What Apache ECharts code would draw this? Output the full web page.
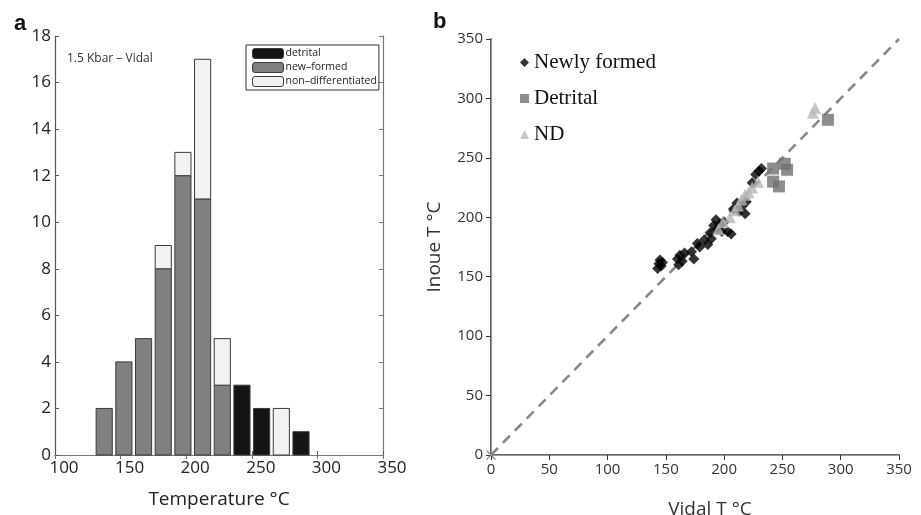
<!DOCTYPE html>
<html>
<head>
<meta charset="utf-8">
<script src="https://cdn.jsdelivr.net/npm/echarts@6/dist/echarts.min.js"></script>
<style>
  html, body { margin: 0; padding: 0; background: #fff; }
  #chart { width: 921px; height: 515px; }
</style>
</head>
<body>
<div id="chart"></div>
<script>
// panel a: histogram, 15 °C bins
const binCenters = [137.5, 152.5, 167.5, 182.5, 197.5, 212.5, 227.5, 242.5, 257.5, 272.5, 287.5]
const newFormed = [2, 4, 5, 8, 12, 11, 3, 0, 0, 0, 0]
const nonDiff = [0, 0, 0, 1, 1, 6, 2, 0, 0, 2, 0]
const detrital = [0, 0, 0, 0, 0, 0, 0, 3, 2, 0, 1]

// panel b: Vidal T vs Inoue T
const newlyFormedPts = [
  [143, 157], [144, 161], [145, 164], [146, 159], [147, 162],
  [160, 165], [161, 160], [162, 168], [164, 163], [166, 170], [172, 171], [174, 165],
  [177, 178], [179, 175], [183, 181], [186, 177], [188, 187], [189, 182],
  [191, 193], [193, 198], [194, 190], [196, 194], [198, 188], [200, 196], [203, 188], [206, 186],
  [208, 207], [211, 212], [213, 205], [216, 210], [218, 203], [219, 213],
  [224, 229], [227, 236], [230, 239], [232, 241]
]
const detritalPts = [[242, 241], [252, 245], [254, 240], [242, 230], [247, 226], [289, 282]]
const ndPts = [
  [195, 190], [199, 196], [205, 200], [209, 206], [212, 210], [215, 215],
  [218, 219], [221, 221], [224, 225], [229, 230], [276, 288], [278, 292]
]
const oneToOne = [[0, 0], [350, 350]]

const numFont = '"Open Sans", sans-serif'
const barEdge = '#3a3a3a'

// [x, base, height] rows; stacked bars built from the count arrays
const barRows = (counts, bases) =>
  binCenters
    .map((x, i) => [x, bases ? bases[i] : 0, counts[i]])
    .filter(r => r[2] > 0)

const makeRender = fill => (params, api) => {
  const x = api.value(0)
  const base = api.value(1)
  const h = api.value(2)
  const p0 = api.coord([x, base])
  const p1 = api.coord([x, base + h])
  const half = api.size([15, 0])[0] * 0.41
  return {
    type: 'rect',
    shape: { x: p0[0] - half, y: p1[1], width: half * 2, height: p0[1] - p1[1] },
    style: { fill: fill, stroke: barEdge, lineWidth: 1 }
  }
}

const chart = echarts.init(document.getElementById('chart'))

const option = {
  animation: false,
  backgroundColor: '#fff',
  title: [
    { text: 'a', left: 9, top: 8, textStyle: { fontSize: 22, fontWeight: 'bold', color: '#111', fontFamily: 'Arial, sans-serif' } },
    { text: 'b', left: 428, top: 6, textStyle: { fontSize: 22, fontWeight: 'bold', color: '#111', fontFamily: 'Arial, sans-serif' } },
    { text: '1.5 Kbar – Vidal', left: 62, top: 48, textStyle: { fontSize: 12, fontWeight: 'normal', color: '#333', fontFamily: numFont } }
  ],
  legend: [
    {
      data: ['detrital', 'new–formed', 'non–differentiated'],
      orient: 'vertical',
      left: 246,
      top: 45,
      itemWidth: 31,
      itemHeight: 10,
      itemGap: 3,
      padding: [3, 2, 3, 6],
      backgroundColor: '#fff',
      borderColor: '#333',
      borderWidth: 1,
      borderRadius: 0,
      textStyle: { fontSize: 10.5, color: '#222', fontFamily: numFont, padding: [0, 0, 0, -3] },
      itemStyle: { borderColor: barEdge, borderWidth: 1 }
    },
    {
      data: [
        { name: 'Newly formed', icon: 'diamond' },
        { name: 'Detrital', icon: 'rect' },
        { name: 'ND', icon: 'triangle' }
      ],
      orient: 'vertical',
      left: 515,
      top: 47,
      itemWidth: 9,
      itemHeight: 9,
      itemGap: 15,
      textStyle: { fontSize: 21, color: '#111', fontFamily: '"Liberation Serif", serif' }
    }
  ],
  grid: [
    { left: 55, top: 36, width: 328, height: 419, outerBoundsMode: 'none', containLabel: false },
    { left: 491, top: 39, width: 408, height: 416, outerBoundsMode: 'none', containLabel: false }
  ],
  xAxis: [
    {
      gridIndex: 0, type: 'value', min: 100, max: 350, interval: 50,
      name: 'Temperature °C', nameLocation: 'middle', nameGap: 35,
      nameTextStyle: { fontSize: 19, color: '#222', fontFamily: numFont },
      axisLine: { lineStyle: { color: '#555', width: 1.2 } },
      axisTick: { inside: true, length: 4, lineStyle: { color: '#555' } },
      axisLabel: { fontSize: 17, color: '#222', fontFamily: numFont, margin: 5, padding: [0, 0, 0, 18] },
      splitLine: { show: false }
    },
    {
      gridIndex: 0, type: 'value', min: 100, max: 350, interval: 50, position: 'top',
      axisLine: { lineStyle: { color: '#777', width: 1.2 } },
      axisTick: { inside: true, length: 4, lineStyle: { color: '#777' } },
      axisLabel: { show: false }, splitLine: { show: false }
    },
    {
      gridIndex: 1, type: 'value', min: 0, max: 350, interval: 50,
      name: 'Vidal T °C', nameLocation: 'middle', nameGap: 45,
      nameTextStyle: { fontSize: 19, color: '#333', fontFamily: numFont, padding: [0, 0, 0, 30] },
      axisLine: { lineStyle: { color: '#333', width: 1.6 } },
      axisTick: { length: 5, lineStyle: { color: '#333' } },
      axisLabel: { fontSize: 15, color: '#333', fontFamily: numFont, margin: 7 },
      splitLine: { show: false }
    },
    {
      gridIndex: 1, type: 'value', min: 0, max: 350, position: 'top',
      axisLine: { lineStyle: { color: '#999', width: 1.2 } },
      axisTick: { show: false }, axisLabel: { show: false }, splitLine: { show: false }
    }
  ],
  yAxis: [
    {
      gridIndex: 0, type: 'value', min: 0, max: 18, interval: 2,
      axisLine: { show: true, lineStyle: { color: '#555', width: 1.2 } },
      axisTick: { show: true, inside: true, length: 4, lineStyle: { color: '#555' } },
      axisLabel: { fontSize: 17, color: '#222', fontFamily: numFont, margin: 4 },
      splitLine: { show: false }
    },
    {
      gridIndex: 0, type: 'value', min: 0, max: 18, interval: 2, position: 'right',
      axisLine: { show: true, lineStyle: { color: '#777', width: 1.2 } },
      axisTick: { show: true, inside: true, length: 4, lineStyle: { color: '#777' } },
      axisLabel: { show: false }, splitLine: { show: false }
    },
    {
      gridIndex: 1, type: 'value', min: 0, max: 350, interval: 50,
      name: 'Inoue T °C', nameLocation: 'middle', nameGap: 47,
      nameTextStyle: { fontSize: 19, color: '#333', fontFamily: numFont },
      axisLine: { show: true, lineStyle: { color: '#333', width: 1.6 } },
      axisTick: { show: true, length: 5, lineStyle: { color: '#333' } },
      axisLabel: { fontSize: 15, color: '#333', fontFamily: numFont, margin: 8 },
      splitLine: { show: false }
    },
    {
      gridIndex: 1, type: 'value', min: 0, max: 350, position: 'right',
      axisLine: { show: true, lineStyle: { color: '#999', width: 1.2 } },
      axisTick: { show: false }, axisLabel: { show: false }, splitLine: { show: false }
    }
  ],
  series: [
    {
      name: 'new–formed', type: 'custom', xAxisIndex: 0, yAxisIndex: 0,
      data: barRows(newFormed), encode: { x: 0, y: [1, 2] },
      renderItem: makeRender('#808080'),
      itemStyle: { color: '#808080' }
    },
    {
      name: 'non–differentiated', type: 'custom', xAxisIndex: 0, yAxisIndex: 0,
      data: barRows(nonDiff, newFormed), encode: { x: 0, y: [1, 2] },
      renderItem: makeRender('#f2f2f2'),
      itemStyle: { color: '#f2f2f2' }
    },
    {
      name: 'detrital', type: 'custom', xAxisIndex: 0, yAxisIndex: 0,
      data: barRows(detrital), encode: { x: 0, y: [1, 2] },
      renderItem: makeRender('#141414'),
      itemStyle: { color: '#141414' }
    },
    {
      name: '1:1', type: 'line', xAxisIndex: 2, yAxisIndex: 2,
      data: oneToOne,
      symbol: 'path://M0,0L10,10M10,0L0,10',
      symbolSize: (v, p) => (p.dataIndex === 0 ? 9 : 0),
      itemStyle: { color: 'none', borderColor: '#888', borderWidth: 1.2 },
      lineStyle: { color: '#888', width: 2.6, type: [10, 7] },
      z: 1
    },
    {
      name: 'Newly formed', type: 'scatter', xAxisIndex: 2, yAxisIndex: 2,
      data: newlyFormedPts, symbol: 'diamond', symbolSize: 11,
      itemStyle: { color: '#000' }, z: 3
    },
    {
      name: 'Detrital', type: 'scatter', xAxisIndex: 2, yAxisIndex: 2,
      data: detritalPts, symbol: 'rect', symbolSize: 12,
      itemStyle: { color: '#707070' }, z: 2
    },
    {
      name: 'ND', type: 'scatter', xAxisIndex: 2, yAxisIndex: 2,
      data: ndPts, symbol: 'triangle', symbolSize: 12,
      itemStyle: { color: '#b8b8b8' }, z: 4
    }
  ]
}

chart.setOption(option)
</script>
</body>
</html>
